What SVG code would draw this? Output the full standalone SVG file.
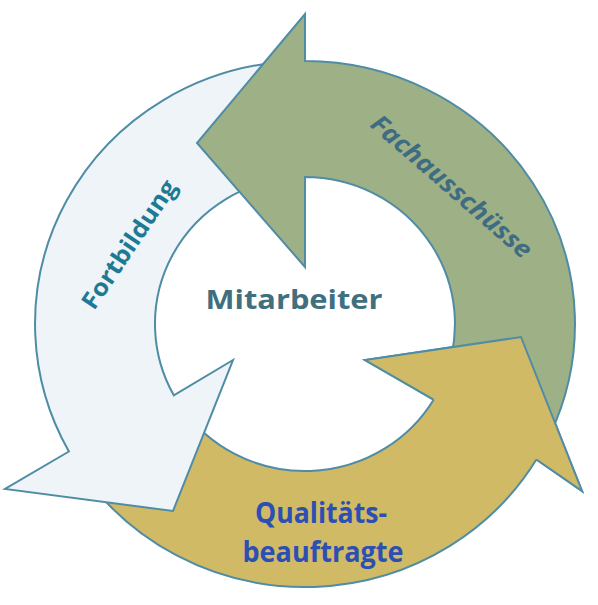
<svg xmlns="http://www.w3.org/2000/svg" width="598" height="605" viewBox="0 0 598 605">
<style>
.arrow{stroke:#4F8CA5;stroke-width:2;stroke-linejoin:miter}
.light{fill:#EEF4F7}
.green{fill:#9EB085}
.yellow{fill:#D0BA66}
.lbl{font-family:"Open Sans","Liberation Sans",sans-serif;font-weight:bold}
</style>
<rect width="598" height="605" fill="#FFFFFF"/>
<g id="qualitaet">
<path class="arrow yellow" d="M83.8,474.9 A270,263 0 0 0 536.4,459.5 L582,491 L521,337 L365,360 L433.6,399.7 A150,147 0 0 1 182.1,408.3 Z"/>
</g>
<g id="fortbildung">
<path class="arrow light" d="M281.5,62 A270,263 0 0 0 68.9,451.5 L5,489 L173,511 L233,360 L173.8,395.3 A150,147 0 0 1 291.9,177.6 Z"/>
<text class="lbl" x="136" y="249" font-size="24" fill="#1E7A94" text-anchor="middle" textLength="150" lengthAdjust="spacingAndGlyphs" transform="rotate(-56 136 249)">Fortbildung</text>
</g>
<g id="fachausschuesse">
<path class="arrow green" d="M549.7,435.1 A270,263 0 0 0 305,61 L305,14 L197,143 L305,267 L305,177 A150,147 0 0 1 440.9,386.1 Z"/>
<text class="lbl" x="446" y="193" font-size="25" font-style="italic" fill="#3E6C82" text-anchor="middle" textLength="204" lengthAdjust="spacingAndGlyphs" transform="rotate(41 446 193)">Fachausschüsse</text>
</g>
<g id="qualitaet-head">
<path class="yellow" d="M433.6,399.7 L365,360 L521,337 L582,491 L536.4,459.5 Z"/>
<path class="arrow" fill="none" d="M433.6,399.7 L365,360 L521,337 L582,491 L536.4,459.5"/>
<text class="lbl" x="321" y="523" font-size="28" fill="#2C4FB4" text-anchor="middle" textLength="132" lengthAdjust="spacingAndGlyphs">Qualitäts-</text>
<text class="lbl" x="323" y="562" font-size="28" fill="#2C4FB4" text-anchor="middle" textLength="161" lengthAdjust="spacingAndGlyphs">beauftragte</text>
</g>
<g id="mitarbeiter">
<text class="lbl" x="294" y="309" font-size="27" fill="#407080" text-anchor="middle" textLength="177" lengthAdjust="spacingAndGlyphs">Mitarbeiter</text>
</g>
</svg>
